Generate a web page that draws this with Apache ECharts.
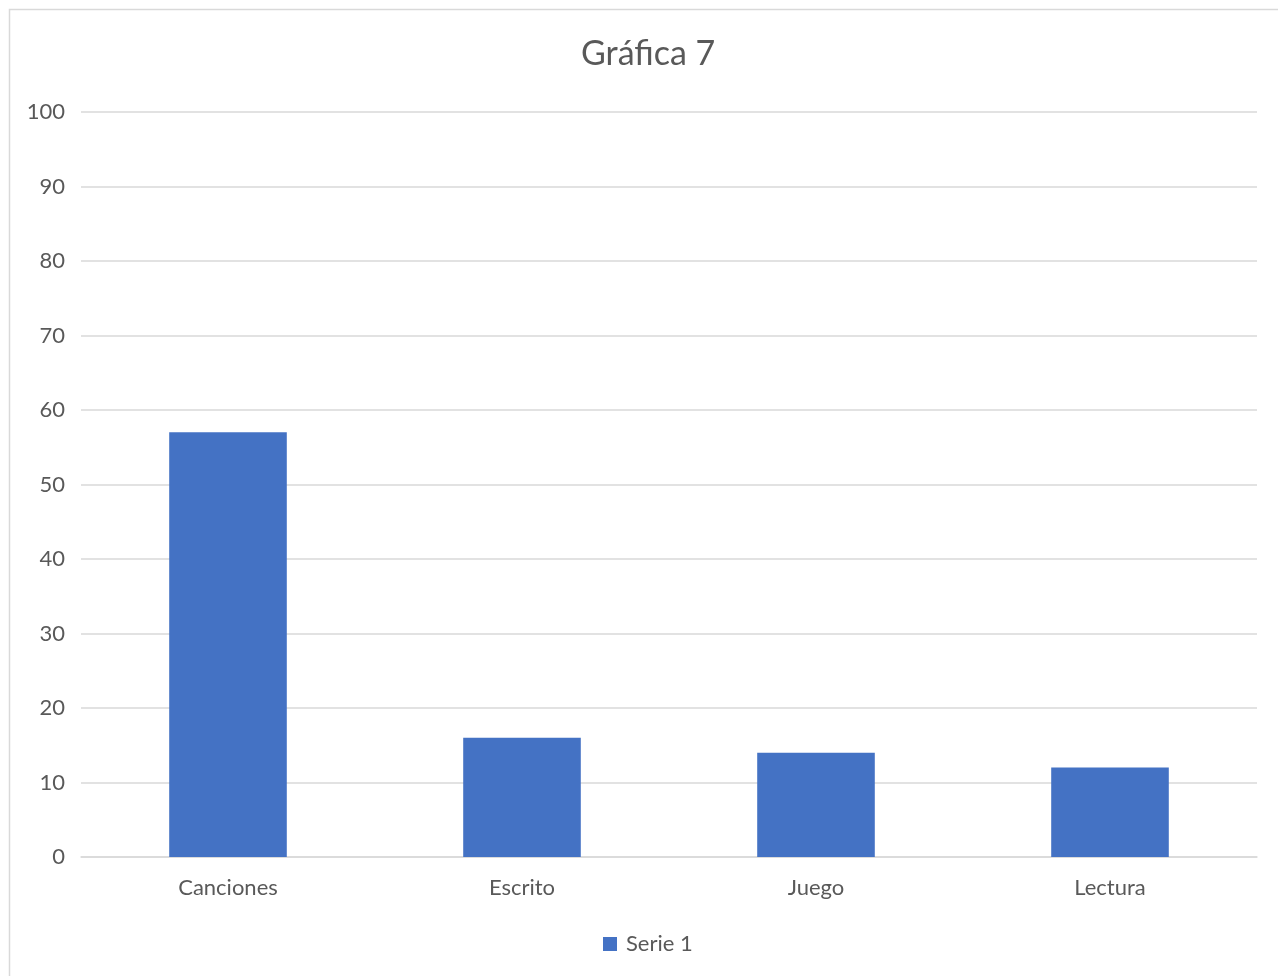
<!DOCTYPE html>
<html><head><meta charset="utf-8">
<script src="https://cdn.jsdelivr.net/npm/echarts@6/dist/echarts.min.js"></script>
<style>html,body{margin:0;padding:0;background:#fff}#c{width:1278px;height:976px}</style>
</head><body><div id="c"></div>
<script>
const categories = ['Canciones', 'Escrito', 'Juego', 'Lectura'];
const serie1 = [57, 16, 14, 12];
const seriesName = 'Serie 1';
const titleText = 'Gráfica 7';

const chart = echarts.init(document.getElementById('c'));
const font = 'Lato';
chart.setOption({
  animation: false,
  backgroundColor: '#fff',
  graphic: [{type: 'rect', shape: {x: 9.5, y: 9.5, width: 1400, height: 1100}, style: {fill: 'none', stroke: '#d9d9d9', lineWidth: 1.5}, silent: true}],
  title: {text: titleText, left: 581, top: 37, itemGap: 0, padding: 0, textStyle: {fontFamily: font, fontSize: 34, fontWeight: 'normal', color: '#595959'}},
  legend: {bottom: 21, left: 603, padding: 0, itemWidth: 14, itemHeight: 14, icon: 'rect', itemGap: 8,
    textStyle: {fontFamily: font, fontSize: 22, color: '#595959', padding: [0, 0, 0, 4]}},
  grid: {left: 81, right: 21, top: 112, bottom: 119, containLabel: false},
  xAxis: {type: 'category', data: categories,
    axisLine: {lineStyle: {color: '#d9d9d9', width: 1.5}}, axisTick: {show: false},
    axisLabel: {fontFamily: font, fontSize: 22, color: '#595959', margin: 20}},
  yAxis: {type: 'value', min: 0, max: 100, interval: 10,
    axisLine: {show: false}, axisTick: {show: false},
    splitLine: {lineStyle: {color: '#d9d9d9', width: 1.5}},
    axisLabel: {fontFamily: font, fontSize: 22, color: '#595959', margin: 16}},
  series: [{name: seriesName, type: 'bar', data: serie1, barWidth: '40%', itemStyle: {color: '#4472c4'}}]
});
</script></body></html>
